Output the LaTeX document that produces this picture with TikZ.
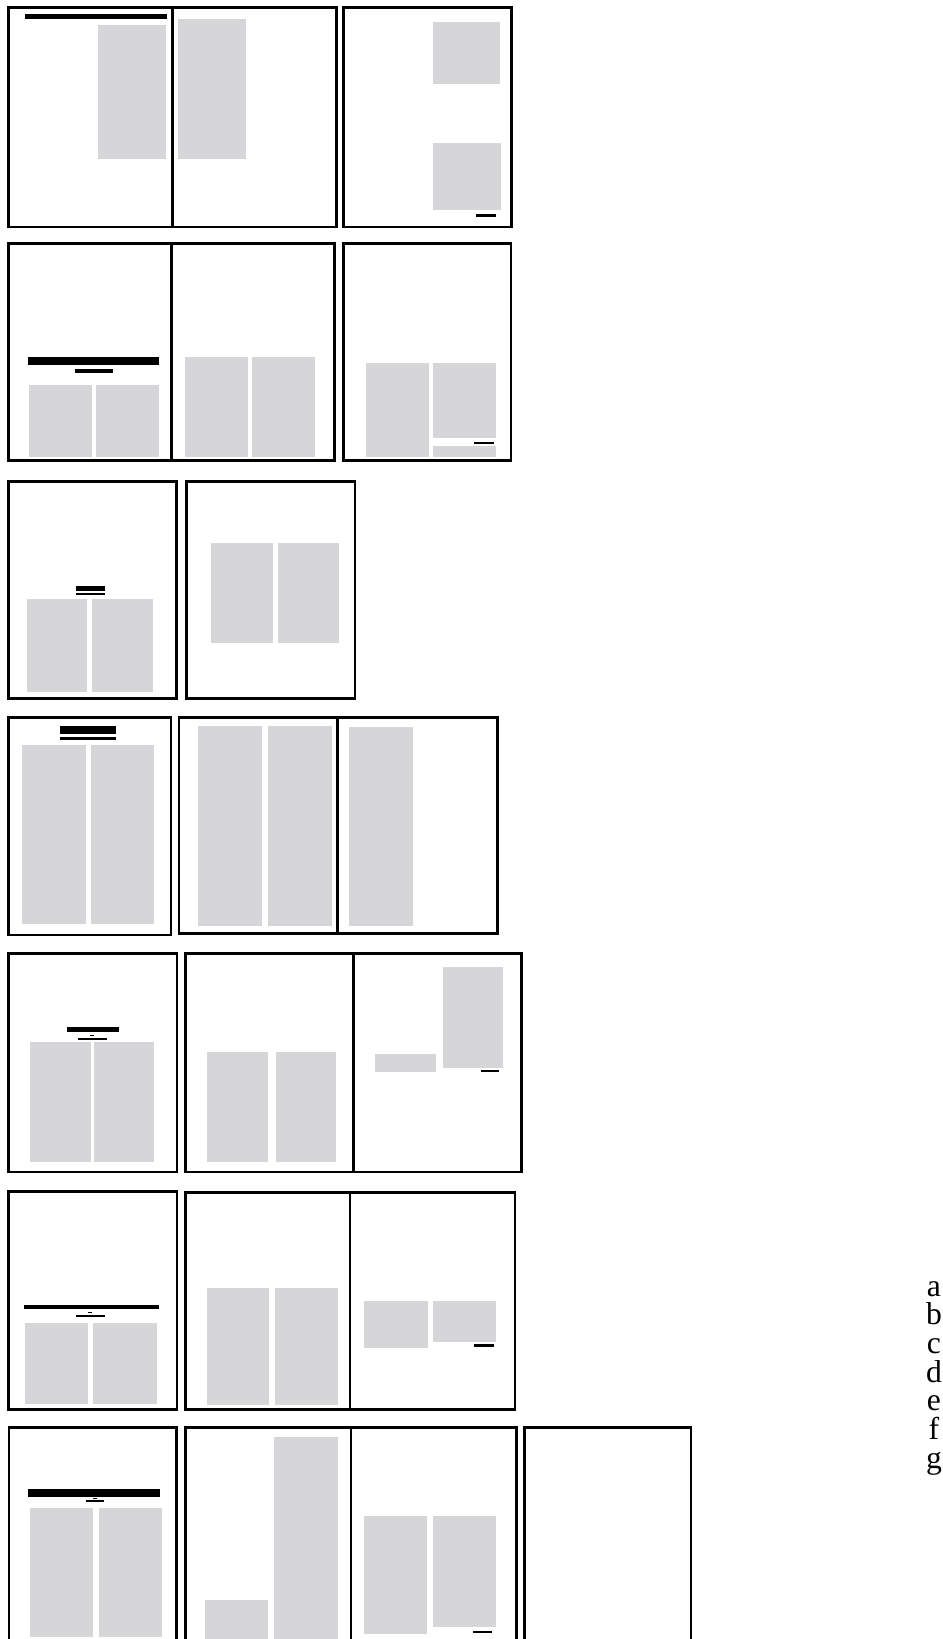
\documentclass[tikz,border=0pt]{standalone}
\usepackage{fontspec}
\setmainfont{Liberation Serif}
\definecolor{blockgray}{RGB}{214,214,217}
\begin{document}
\begin{tikzpicture}[x=0.01cm, y=-0.01cm,
		page/.style={draw=black, line width=0.8pt},
		block/.style={fill=blockgray},
		rule/.style={fill=black},
		letter/.style={inner sep=0pt, anchor=base, font=\fontsize{9}{10}\selectfont}]
		\useasboundingbox (0,0) rectangle (942,1639);
		\clip (0,0) rectangle (942,1639);
		% row 1
		\fill[block] (97.7,25) rectangle (165.7,159);
		\fill[block] (178.3,19) rectangle (245.7,159.3);
		\fill[block] (433,22.3) rectangle (500,84);
		\fill[block] (433,143) rectangle (501,210);
		\fill[rule] (25,14) rectangle (167,19.3);
		\fill[rule] (476,214) rectangle (496,216.7);
		\draw[page] (8.3,7.3) rectangle (336.7,227) (172.7,7.3) -- (172.7,227);
		\draw[page] (343.3,7.3) rectangle (511.7,227);
		% row 2
		\fill[block] (29,385) rectangle (92.3,456.7);
		\fill[block] (96,385) rectangle (159.3,456.7);
		\fill[block] (185,356.7) rectangle (248.3,456.7);
		\fill[block] (252,356.7) rectangle (315.3,456.7);
		\fill[block] (366,363.3) rectangle (429.3,456.7);
		\fill[block] (432.7,363.3) rectangle (496,438.3);
		\fill[block] (433.3,446) rectangle (496,456.7);
		\fill[rule] (28.3,356.7) rectangle (159.3,364.7);
		\fill[rule] (75.3,369.3) rectangle (112.7,372.7);
		\fill[rule] (474,441.7) rectangle (494,444);
		\draw[page] (8.3,243.3) rectangle (334.3,460.7) (171.7,243.3) -- (171.7,460.7);
		\draw[page] (343.3,243.3) rectangle (511,460.7);
		% row 3
		\fill[block] (26.7,599.3) rectangle (87.3,691.7);
		\fill[block] (91.7,599.3) rectangle (152.7,691.7);
		\fill[block] (211,543.3) rectangle (272.7,643.3);
		\fill[block] (277.7,543.3) rectangle (339.3,643.3);
		\fill[rule] (76,586) rectangle (105,590.7);
		\fill[rule] (76,592.7) rectangle (105,595.3);
		\draw[page] (8.3,481.7) rectangle (176.7,698.3);
		\draw[page] (186.7,481.7) rectangle (355,698.3);
		% row 4
		\fill[block] (22.3,745) rectangle (85.7,924.3);
		\fill[block] (90.7,745) rectangle (154,924.3);
		\fill[block] (197.7,726) rectangle (261.7,926);
		\fill[block] (268.3,726) rectangle (332.3,926);
		\fill[block] (349.3,726.7) rectangle (412.7,926);
		\fill[rule] (60,725.7) rectangle (116,734.3);
		\fill[rule] (60,736.7) rectangle (116,740.3);
		\draw[page] (8.3,717.7) rectangle (171,935);
		\draw[page] (179,717.7) rectangle (497.3,933.3) (337.7,717.7) -- (337.7,933.3);
		% row 5
		\fill[block] (30.1,1042.3) rectangle (90.7,1162.3);
		\fill[block] (94.2,1042.3) rectangle (154,1162.3);
		\fill[block] (207.3,1052.3) rectangle (267.7,1161.7);
		\fill[block] (276,1052.3) rectangle (336,1161.7);
		\fill[block] (375,1054) rectangle (435.7,1072.3);
		\fill[block] (443.3,967.3) rectangle (503.3,1068.3);
		\fill[rule] (66.5,1026.7) rectangle (118.7,1031.7);
		\fill[rule] (90,1034.7) rectangle (94.2,1036);
		\fill[rule] (78.2,1038) rectangle (106.6,1039.7);
		\fill[rule] (481,1069.7) rectangle (499,1072);
		\draw[page] (8.7,953.5) rectangle (177,1172);
		\draw[page] (185.7,953.5) rectangle (521.7,1172) (353.3,953.5) -- (353.3,1172);
		% row 6
		\fill[block] (24.9,1322.7) rectangle (88.3,1404);
		\fill[block] (92.8,1322.7) rectangle (156.5,1404);
		\fill[block] (206.7,1288.3) rectangle (269.3,1405);
		\fill[block] (275,1288.3) rectangle (338.3,1405);
		\fill[block] (364,1300.7) rectangle (427.7,1348.3);
		\fill[block] (433.3,1300.7) rectangle (496,1341.7);
		\fill[rule] (23.5,1305) rectangle (158.5,1309);
		\fill[rule] (88.3,1312) rectangle (91.7,1313.3);
		\fill[rule] (75.5,1315) rectangle (104.5,1316.7);
		\fill[rule] (474.3,1344.3) rectangle (494,1346.7);
		\draw[page] (8.7,1191.7) rectangle (177,1409.3);
		\draw[page] (185.7,1192.5) rectangle (515,1409.3) (350,1192.5) -- (350,1409.3);
		% row 7
		\fill[block] (30,1508.3) rectangle (92.7,1637);
		\fill[block] (99.3,1508.3) rectangle (162.3,1637);
		\fill[block] (205,1600) rectangle (267.7,1645);
		\fill[block] (274.3,1436.7) rectangle (337.7,1645);
		\fill[block] (364,1516) rectangle (427.3,1634);
		\fill[block] (433.3,1516) rectangle (496,1627.3);
		\fill[rule] (28.3,1489) rectangle (160,1496.7);
		\fill[rule] (92.7,1497.7) rectangle (96.7,1499.3);
		\fill[rule] (86,1500) rectangle (104,1502.3);
		\fill[rule] (473.3,1630.7) rectangle (492.3,1632.7);
		\draw[page] (9,1427.3) rectangle (176.7,1650);
		\draw[page] (185.7,1427.3) rectangle (516.7,1650) (351,1427.3) -- (351,1650);
		\draw[page] (524.3,1427.3) rectangle (691,1650);
		% key
		\node[letter] (a) at (934,1296) {a};
		\node[letter] (b) at (934,1324.7) {b};
		\node[letter] (c) at (934,1353.4) {c};
		\node[letter] (d) at (934,1382.1) {d};
		\node[letter] (e) at (934,1410.8) {e};
		\node[letter] (f) at (934,1439.5) {f};
		\node[letter] (g) at (934,1468.2) {g};
\end{tikzpicture}
\end{document}
